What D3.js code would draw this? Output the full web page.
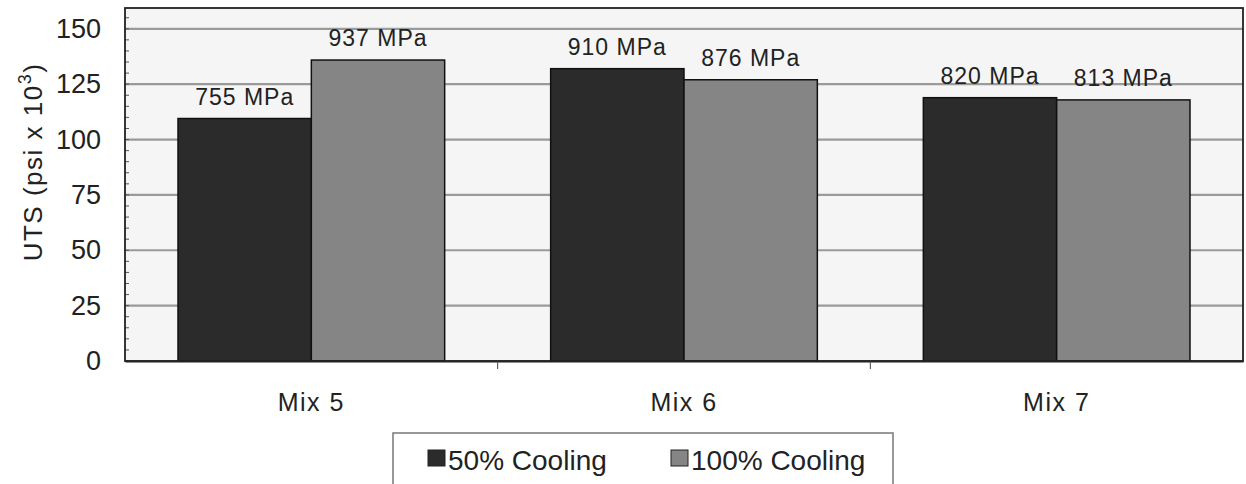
<!DOCTYPE html>
<html>
<head>
<meta charset="utf-8">
<script src="https://cdn.jsdelivr.net/npm/d3@7"></script>
<style>
  body { margin: 0; background: #fff; }
  text { font-family: "Liberation Sans", Arial, sans-serif; fill: #222; }
</style>
</head>
<body>
<div id="chart"></div>
<script>
// data (UTS in ksi, label in MPa)
const mixes = ["Mix 5", "Mix 6", "Mix 7"];
const series = ["50% Cooling", "100% Cooling"];
const cool50 = [109.5, 132.0, 118.9];
const cool100 = [135.9, 127.0, 117.9];
const mpa50 = ["755 MPa", "910 MPa", "820 MPa"];
const mpa100 = ["937 MPa", "876 MPa", "813 MPa"];
const yTicks = [0, 25, 50, 75, 100, 125, 150];

const width = 1246, height = 484;
const margins = { top: 8, right: 3, bottom: 123, left: 125 };
const visWidth = width - margins.left - margins.right;
const visHeight = height - margins.top - margins.bottom;

const colors = { "50% Cooling": "#2b2b2b", "100% Cooling": "#858585" };

const rows = mixes.map((m, i) => ({
  name: m,
  vals: [
    { key: series[0], value: cool50[i], label: mpa50[i] },
    { key: series[1], value: cool100[i], label: mpa100[i] }
  ]
}));

const svg = d3.select("#chart").append("svg").attr("width", width).attr("height", height);
const g = svg.append("g").attr("transform", "translate(" + margins.left + "," + margins.top + ")");

const x = d3.scaleBand().domain(mixes).range([0, visWidth]).paddingInner(0).paddingOuter(0);
const xSub = d3.scaleBand().domain(series).range([53, x.bandwidth() - 53]);
const y = d3.scaleLinear().domain([0, 159.4]).range([visHeight, 0]);

// plot background
g.append("rect").attr("width", visWidth).attr("height", visHeight).attr("fill", "#f5f5f5");

// gridlines
g.selectAll(".grid").data(yTicks.filter(d => d > 0)).enter().append("line")
  .attr("x1", 0).attr("x2", visWidth)
  .attr("y1", d => y(d)).attr("y2", d => y(d))
  .attr("stroke", "#9a9a9a").attr("stroke-width", 2.2);

// minor ticks on left axis
g.selectAll(".minor").data(d3.range(0, 160, 5)).enter().append("line")
  .attr("x1", 0).attr("x2", 4)
  .attr("y1", d => y(d)).attr("y2", d => y(d))
  .attr("stroke", "#555").attr("stroke-width", 1);

// bars
const grp = g.selectAll(".mix").data(rows).enter().append("g")
  .attr("transform", d => "translate(" + x(d.name) + ",0)");

grp.selectAll("rect").data(d => d.vals).enter().append("rect")
  .attr("x", d => xSub(d.key))
  .attr("y", d => y(d.value))
  .attr("width", xSub.bandwidth())
  .attr("height", d => visHeight - y(d.value))
  .attr("fill", d => colors[d.key])
  .attr("stroke", "#111").attr("stroke-width", 1.5);

grp.selectAll("text").data(d => d.vals).enter().append("text")
  .attr("x", d => xSub(d.key) + xSub.bandwidth() / 2)
  .attr("y", d => y(d.value) - 14)
  .attr("text-anchor", "middle")
  .style("font-size", "23px")
  .style("letter-spacing", "1px")
  .text(d => d.label);

// frame
g.append("rect").attr("width", visWidth).attr("height", visHeight)
  .attr("fill", "none").attr("stroke", "#222").attr("stroke-width", 1.8);

// x axis
const xAxis = g.append("g").attr("transform", "translate(0," + visHeight + ")")
  .call(d3.axisBottom(x).tickSize(0).tickPadding(32));
xAxis.select(".domain").attr("stroke", "#222").attr("stroke-width", 2.2);
xAxis.selectAll("text").style("font-size", "25px").style("letter-spacing", "1.5px");
g.selectAll(".sep").data(mixes.slice(1)).enter().append("line")
  .attr("x1", d => x(d)).attr("x2", d => x(d))
  .attr("y1", visHeight).attr("y2", visHeight + 8)
  .attr("stroke", "#444");

// y axis labels
const yAxis = g.append("g").call(d3.axisLeft(y).tickValues(yTicks).tickSize(0).tickPadding(24));
yAxis.select(".domain").remove();
yAxis.selectAll("text").style("font-size", "27px");

// y title
const yt = svg.append("text")
  .attr("transform", "translate(42,162) rotate(-90)")
  .attr("text-anchor", "middle")
  .style("font-size", "26px")
  .style("letter-spacing", "1.5px");
yt.append("tspan").text("UTS (psi x 10");
yt.append("tspan").attr("dy", -11).style("font-size", "18px").text("3");
yt.append("tspan").attr("dy", 11).text(")");

// legend
const lg = svg.append("g").attr("transform", "translate(393,433)");
lg.append("rect").attr("width", 500).attr("height", 60)
  .attr("fill", "#fff").attr("stroke", "#777").attr("stroke-width", 1.5);
const lx = [35, 278];
series.forEach((s, i) => {
  lg.append("rect").attr("x", lx[i]).attr("y", 17).attr("width", 17).attr("height", 16)
    .attr("fill", colors[s]).attr("stroke", "#222");
  lg.append("text").attr("x", lx[i] + 20).attr("y", 37).style("font-size", "28px").text(s);
});
</script>
</body>
</html>
